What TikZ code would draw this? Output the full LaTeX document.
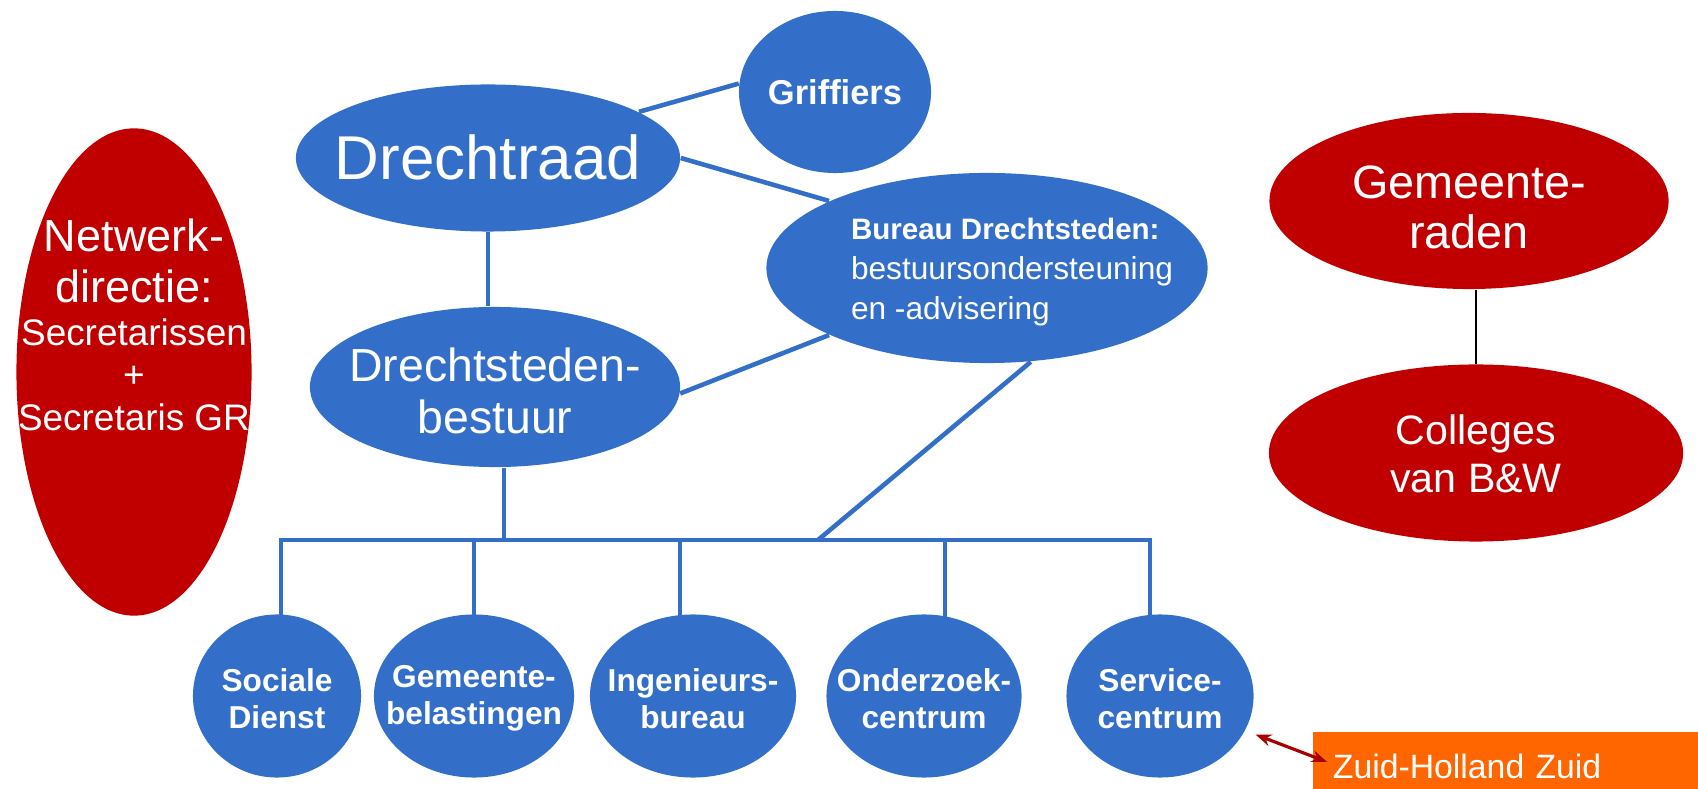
\documentclass[tikz,border=0pt]{standalone}
\usepackage{fontspec}
\setmainfont{Liberation Sans}
\usetikzlibrary{shapes.geometric,arrows.meta}

\definecolor{orgblue}{HTML}{336FC9}
\definecolor{orgred}{HTML}{C00000}
\definecolor{orgorange}{HTML}{FF6600}
\definecolor{arrowred}{HTML}{A80000}
\newcommand{\fsz}[2]{\fontsize{#1}{#2}\selectfont}

\begin{document}
\begin{tikzpicture}[x=0.01cm,y=-0.01cm]
	\useasboundingbox (0,0) rectangle (1698,789);

	\begin{scope}[every node/.style={ellipse,fill=orgblue,inner sep=0pt}]
		\node[minimum width=3.84cm,minimum height=1.47cm] (draad) at (488,158) {};
		\node[minimum width=1.92cm,minimum height=1.62cm] (griff) at (835,92) {};
		\node[minimum width=4.41cm,minimum height=1.90cm] (bureau) at (987,268) {};
		\node[minimum width=3.70cm,minimum height=1.60cm] (dbest) at (495,387) {};
		\node[minimum width=1.68cm,minimum height=1.63cm] (soc) at (277,696) {};
		\node[minimum width=2.00cm,minimum height=1.63cm] (gembel) at (474,696) {};
		\node[minimum width=2.06cm,minimum height=1.63cm] (ingen) at (693,696) {};
		\node[minimum width=1.95cm,minimum height=1.63cm] (onderz) at (924,696) {};
		\node[minimum width=1.87cm,minimum height=1.63cm] (serv) at (1160,696) {};
	\end{scope}

	\begin{scope}[every node/.style={ellipse,fill=orgred,inner sep=0pt}]
		\node[minimum width=2.35cm,minimum height=4.87cm] (netw) at (134,372) {};
		\node[minimum width=3.99cm,minimum height=1.76cm] (graden) at (1469,201) {};
		\node[minimum width=4.14cm,minimum height=1.77cm] (coll) at (1476,453) {};
	\end{scope}

	\node[fill=orgorange,text=white,minimum width=3.85cm,minimum height=0.68cm,inner xsep=0.2cm,
		text width=3.45cm,align=left,font=\fsz{9.6}{12}] (zhz) at (1505.5,766) {Zuid-Holland Zuid};

	% teksten
	\begin{scope}[every node/.style={text=white,align=center,inner sep=0pt}]
		\node[font=\fsz{17.6}{20}] (draadtxt) at (488,157) {Drechtraad};
		\node[font=\bfseries\fsz{9.8}{11}] (grifftxt) at (835,92) {Griffiers};
		\node[align=left,font=\fsz{9}{11.4}] (bureautxt) at (1012,272) {{\bfseries\fsz{8.4}{11.4}Bureau Drechtsteden:}\\bestuursondersteuning\\en -advisering};
		\node[font=\fsz{13.2}{14.8}] (dbesttxt) at (495,391) {Drechtsteden-\\bestuur};
		\node[font=\fsz{10.5}{12.1}] (netwtxt) at (134,325) {{\fsz{12.8}{12.1}Netwerk-}\\[2.4pt]{\fsz{12.8}{12.1}directie:}\\Secretarissen\\+\\Secretaris GR};
		\node[font=\fsz{13.3}{14.2}] (gradentxt) at (1469,207) {Gemeente-\\raden};
		\node[font=\fsz{11.7}{13.7}] (colltxt) at (1476,454) {Colleges\\van B\&W};
		\foreach \n/\t in {soc/{Sociale\\Dienst},gembel/{Gemeente-\\belastingen},ingen/{Ingenieurs-\\bureau},onderz/{Onderzoek-\\centrum},serv/{Service-\\centrum}}
			\node[font=\bfseries\fsz{9}{10.5}] (\n txt) at ([yshift=-0.025cm]\n) {\t};
	\end{scope}

	% lijnen
	\begin{scope}[color=orgblue,line width=1.3pt]
		\coordinate (busL) at (281,540);
		\coordinate (busR) at (1150,540);
		\coordinate (busB) at (818,540);
		\draw[line cap=rect] (busL) -- (busR);
		\draw (draad.17) -- (griff.175);
		\draw (draad.0) -- (bureau.157);
		\draw (dbest.-2) -- (bureau.203);
		\draw (draad.south) -- (draad.south |- dbest.north);
		\draw ([xshift=0.09cm]dbest.south) -- ([xshift=0.09cm]dbest.south |- busL);
		\draw (bureau.295) -- (busB);
		\foreach \n/\dx in {soc/4,gembel/0,ingen/-13,onderz/21,serv/-10}
			\draw ([xshift=\dx*0.01cm]\n.north |- busL) -- ([xshift=\dx*0.01cm,yshift=-0.04cm]\n.north);
	\end{scope}

	\draw[black,line width=0.5pt] (coll.north |- graden.south) -- (coll.north);
	\draw[arrowred,line width=0.9pt,{Stealth[length=4.5pt]}-{Stealth[length=4.5pt]}]
		([shift={(0.1cm,-0.04cm)}]serv.-22) -- ([shift={(0.15cm,0.04cm)}]zhz.west);
\end{tikzpicture}
\end{document}
